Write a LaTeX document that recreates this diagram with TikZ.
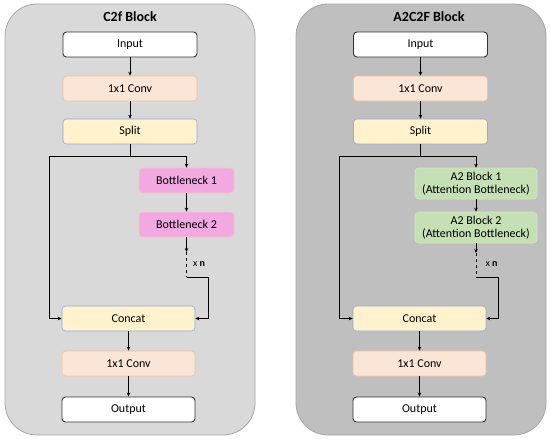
\documentclass[tikz,border=0pt]{standalone}
\usepackage{fontspec}
\setmainfont{Carlito}
\usetikzlibrary{arrows.meta}
\definecolor{panelA}{RGB}{217,217,217}
\definecolor{panelB}{RGB}{191,191,191}
\definecolor{panelDraw}{RGB}{166,166,166}
\definecolor{convfill}{RGB}{251,229,214}
\definecolor{convdraw}{RGB}{244,190,150}
\definecolor{splitfill}{RGB}{255,242,204}
\definecolor{splitdraw}{RGB}{143,170,220}
\definecolor{pinkfill}{RGB}{242,168,224}
\definecolor{pinkdraw}{RGB}{246,200,190}
\definecolor{greenfill}{RGB}{197,224,180}
\definecolor{greendraw}{RGB}{210,232,196}
\tikzset{
  x=1pt, y=-1pt,
  panel/.style={rounded corners=32pt, draw=panelDraw, line width=0.8pt},
  blk/.style={rounded corners=3.5pt, minimum width=134pt, minimum height=25pt, inner sep=0pt,
    font=\fontsize{12}{13.5}\selectfont, align=center, text=black},
  io/.style={blk, fill=white, draw=black!80, line width=0.9pt},
  conv/.style={blk, fill=convfill, draw=convdraw, line width=0.6pt},
  splitbox/.style={blk, fill=splitfill, draw=splitdraw, line width=0.6pt},
  btl/.style={blk, minimum width=95pt, fill=pinkfill, draw=pinkdraw, line width=0.6pt},
  atb/.style={blk, minimum width=122pt, minimum height=31pt, fill=greenfill, draw=greendraw, line width=0.6pt},
  ttl/.style={font=\fontsize{14}{16}\selectfont\bfseries, text=black},
  lbl/.style={font=\fontsize{10}{12}\selectfont, text=black, inner sep=0pt},
  arr/.style={line width=0.9pt, -{Stealth[length=4pt,width=3.5pt]}},
  ln/.style={line width=0.9pt},
}
\begin{document}
\begin{tikzpicture}
\useasboundingbox (0,0) rectangle (550,439);
% panels
\draw[panel, fill=panelA] (5,4) rectangle (255,435);
\draw[panel, fill=panelB] (296,4) rectangle (546,435);

% ---------- left: C2f ----------
\node[ttl] (t1) at (130,17) {C2f Block};
\node[io] (in1) at (130,44.5) {Input};
\node[conv] (cva) at (130,88.5) {1x1 Conv};
\node[splitbox] (sp1) at (130,131.5) {Split};
\node[btl] (b1) at (186.5,180.5) {Bottleneck 1};
\node[btl] (b2) at (186.5,224.5) {Bottleneck 2};
\node[splitbox, minimum width=133pt] (cc1) at (128.5,318.5) {Concat};
\node[conv, minimum width=133pt] (cvb) at (128.5,363.5) {1x1 Conv};
\node[io, minimum width=133pt] (out1) at (128.5,409.5) {Output};
\node[lbl] (xn1) at (199,264) {x \textbf{n}};

\coordinate (j1) at (130,156);
\coordinate (l1) at (49,156);
\coordinate (d1) at (186.5,252);
\coordinate (d2) at (186.5,277);
\coordinate (r1) at (208,277);

\draw[arr] (in1) -- (cva);
\draw[arr] (cva) -- (sp1);
\draw[arr] (sp1.south) -- (j1) -| (b1.north);
\draw[arr] (j1) -- (l1) |- (cc1.west);
\draw[arr] (b1) -- (b2);
\draw[arr] (b2.south) -- (d1);
\draw[ln, dashed] (d1) -- (d2);
\draw[arr] (d2) -- (r1) |- (cc1.east);
\draw[arr] (cc1) -- (cvb);
\draw[arr] (cvb) -- (out1);

% ---------- right: A2C2F ----------
\node[ttl] (t2) at (429,17) {A2C2F Block};
\node[io] (in2) at (420.5,44.5) {Input};
\node[conv] (cvc) at (420.5,88.5) {1x1 Conv};
\node[splitbox] (sp2) at (420.5,131.5) {Split};
\node[atb] (a1) at (476,183.5) {A2 Block 1\\(Attention Bottleneck)};
\node[atb] (a2) at (476,227.5) {A2 Block 2\\(Attention Bottleneck)};
\node[splitbox, minimum width=133pt] (cc2) at (419.5,318.5) {Concat};
\node[conv, minimum width=133pt] (cvd) at (419.5,363.5) {1x1 Conv};
\node[io, minimum width=133pt] (out2) at (419.5,409.5) {Output};
\node[lbl] (xn2) at (491.5,264) {x \textbf{n}};

\coordinate (j2) at (420.5,156);
\coordinate (l2) at (339,156);
\coordinate (d3) at (476,253);
\coordinate (d4) at (476,277);
\coordinate (r2) at (498,277);

\draw[arr] (in2) -- (cvc);
\draw[arr] (cvc) -- (sp2);
\draw[arr] (sp2.south) -- (j2) -| (a1.north);
\draw[arr] (j2) -- (l2) |- (cc2.west);
\draw[arr] (a1) -- (a2);
\draw[arr] (a2.south) -- (d3);
\draw[ln, dashed] (d3) -- (d4);
\draw[arr] (d4) -- (r2) |- (cc2.east);
\draw[arr] (cc2) -- (cvd);
\draw[arr] (cvd) -- (out2);
\end{tikzpicture}
\end{document}
